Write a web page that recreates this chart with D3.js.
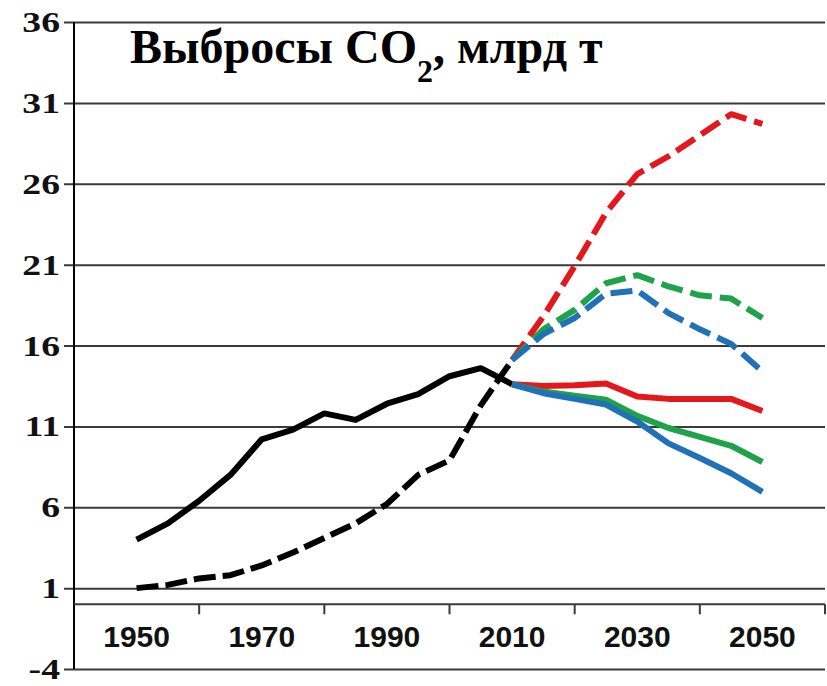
<!DOCTYPE html>
<html>
<head>
<meta charset="utf-8">
<script src="https://cdn.jsdelivr.net/npm/d3@7"></script>
<style>
body { margin: 0; background: #fff; }
</style>
</head>
<body>
<script>
var categories = ["1950", "1970", "1990", "2010", "2030", "2050"];
var yTicks = [-4, 1, 6, 11, 16, 21, 26, 31, 36];

var histYears = [1950, 1955, 1960, 1965, 1970, 1975, 1980, 1985, 1990, 1995, 2000, 2005, 2010];
var histSolid = [4.0, 5.0, 6.4, 8.0, 10.2, 10.8, 11.8, 11.4, 12.4, 13.0, 14.1, 14.6, 13.6];
var histDashed = [1.0, 1.2, 1.6, 1.8, 2.4, 3.2, 4.1, 5.0, 6.2, 8.0, 8.9, 12.3, 15.1];

var projYears = [2010, 2015, 2020, 2025, 2030, 2035, 2040, 2045, 2050];
var redSolid = [13.6, 13.5, 13.55, 13.65, 12.85, 12.7, 12.7, 12.7, 11.95];
var greenSolid = [13.6, 13.15, 12.9, 12.65, 11.65, 10.9, 10.35, 9.8, 8.8];
var blueSolid = [13.6, 13.05, 12.7, 12.35, 11.3, 9.95, 9.05, 8.1, 6.95];
var redDashed = [15.1, 17.8, 20.9, 24.2, 26.6, 27.7, 29.0, 30.3, 29.7];
var greenDashed = [15.1, 17.0, 18.2, 19.85, 20.35, 19.65, 19.1, 18.9, 17.7];
var blueDashed = [15.1, 16.7, 17.7, 19.2, 19.4, 18.0, 17.0, 16.1, 14.4];

var width = 827, height = 686;
var plotLeft = 74, plotRight = 825, plotTop = 22, plotBottom = 669;

var svg = d3.select("body")
    .append("svg")
    .attr("width", width)
    .attr("height", height);

var x = d3.scaleBand()
    .domain(categories)
    .range([plotLeft, plotRight]);

// years map onto the band centres
var xYear = d3.scaleLinear()
    .domain([1950, 2050])
    .range([x("1950") + x.bandwidth() / 2, x("2050") + x.bandwidth() / 2]);

var y = d3.scaleLinear()
    .domain([-4, 36])
    .range([plotBottom, plotTop]);

// gridlines + y axis
var yAxis = d3.axisLeft(y)
    .tickValues(yTicks)
    .tickSize(-(plotRight - plotLeft))
    .tickSizeOuter(0)
    .tickFormat(d3.format("d"));

var gy = svg.append("g")
    .attr("transform", "translate(" + plotLeft + ",0)")
    .call(yAxis);
gy.select(".domain").remove();
gy.selectAll(".tick line")
    .attr("x1", -10)
    .attr("stroke", "#3a3a3a")
    .attr("stroke-width", 2);
gy.selectAll(".tick text").remove();

svg.append("line")
    .attr("x1", plotLeft).attr("x2", plotLeft)
    .attr("y1", plotTop).attr("y2", plotBottom)
    .attr("stroke", "#000")
    .attr("stroke-width", 2);

svg.selectAll(".ylab")
    .data(yTicks)
    .enter()
    .append("text")
    .attr("class", "ylab")
    .attr("transform", function(d) {
        return "translate(60," + (y(d) + 10) + ") scale(1.3,1)";
    })
    .attr("text-anchor", "end")
    .attr("font-family", "Liberation Serif, Times New Roman, serif")
    .attr("font-weight", "bold")
    .attr("font-size", 29)
    .attr("fill", "#111")
    .text(function(d) { return d; });

// category axis at zero
var xAxis = d3.axisBottom(x)
    .tickSize(0)
    .tickPadding(0);

var gx = svg.append("g")
    .attr("transform", "translate(0," + y(0) + ")")
    .call(xAxis);
gx.select(".domain")
    .attr("stroke", "#3a3a3a")
    .attr("stroke-width", 2)
    .attr("d", "M" + plotLeft + ",0H" + plotRight);
gx.selectAll(".tick text")
    .attr("y", 43)
    .attr("dy", 0)
    .attr("font-family", "Liberation Sans, Arial, sans-serif")
    .attr("font-weight", "bold")
    .attr("font-size", 30)
    .attr("fill", "#111");

svg.selectAll(".xsep")
    .data(categories)
    .enter()
    .append("line")
    .attr("class", "xsep")
    .attr("x1", function(d) { return x(d) + x.bandwidth(); })
    .attr("x2", function(d) { return x(d) + x.bandwidth(); })
    .attr("y1", y(0))
    .attr("y2", y(0) + 10)
    .attr("stroke", "#3a3a3a")
    .attr("stroke-width", 2);

// lines
var line = d3.line()
    .x(function(d) { return xYear(d[0]); })
    .y(function(d) { return y(d[1]); });

var series = [
    {years: histYears, values: histDashed, color: "#000", dash: "22,7"},
    {years: projYears, values: redDashed, color: "#e3171c", dash: "22,8"},
    {years: projYears, values: greenDashed, color: "#1fa34a", dash: "22,8"},
    {years: projYears, values: blueDashed, color: "#2171b8", dash: "22,8"},
    {years: histYears, values: histSolid, color: "#000", dash: null},
    {years: projYears, values: redSolid, color: "#e3171c", dash: null},
    {years: projYears, values: greenSolid, color: "#1fa34a", dash: null},
    {years: projYears, values: blueSolid, color: "#2171b8", dash: null}
];

svg.selectAll(".series")
    .data(series)
    .enter()
    .append("path")
    .attr("class", "series")
    .attr("d", function(s) {
        return line(s.years.map(function(yr, i) { return [yr, s.values[i]]; }));
    })
    .attr("fill", "none")
    .attr("stroke", function(s) { return s.color; })
    .attr("stroke-width", 6)
    .attr("stroke-linejoin", "round")
    .attr("stroke-dasharray", function(s) { return s.dash; });

// title
var title = svg.append("text")
    .attr("x", 130)
    .attr("y", 63)
    .attr("font-family", "Liberation Serif, Times New Roman, serif")
    .attr("font-weight", "bold")
    .attr("font-size", 48)
    .attr("fill", "#000");
title.append("tspan").text("Выбросы CO");
title.append("tspan").attr("font-size", 32).attr("dy", 19).text("2");
title.append("tspan").attr("dy", -19).text(", млрд т");
</script>
</body>
</html>
